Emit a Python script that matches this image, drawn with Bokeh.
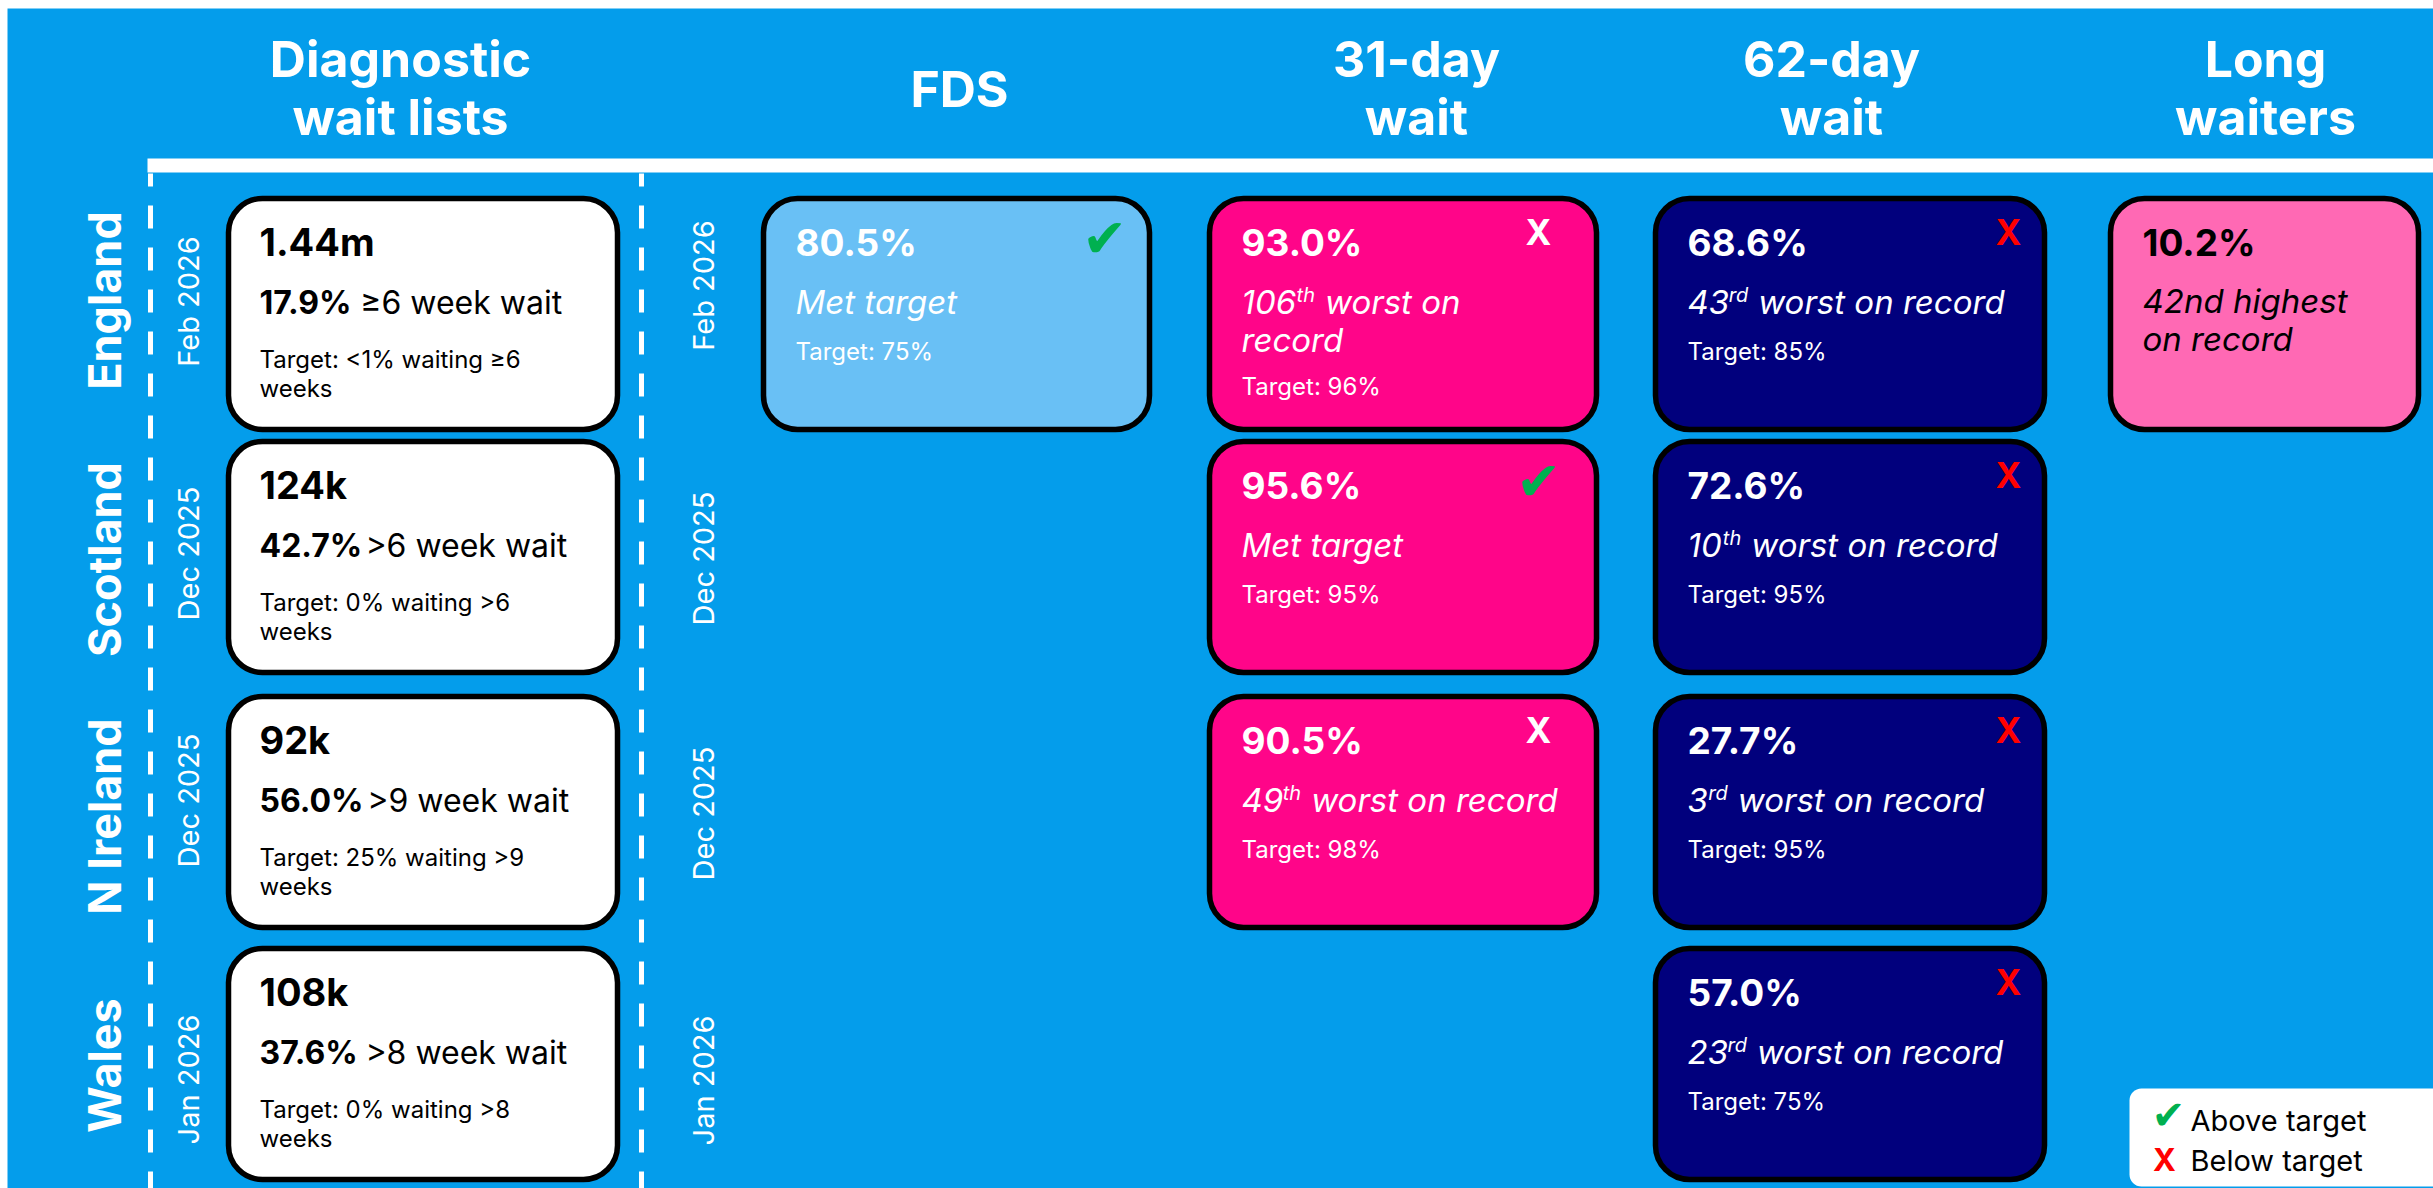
import math
from bokeh.plotting import figure
from bokeh.models import ColumnDataSource, Range1d
from bokeh.embed import file_html
from bokeh.resources import INLINE

# ---------------- data ----------------
countries = ["England", "Scotland", "N Ireland", "Wales"]
diag_dates = ["Feb 2026", "Dec 2025", "Dec 2025", "Jan 2026"]
cancer_dates = ["Feb 2026", "Dec 2025", "Dec 2025", "Jan 2026"]
headers = [["Diagnostic", "wait lists"], ["FDS"], ["31-day", "wait"], ["62-day", "wait"], ["Long", "waiters"]]

diag_list_size = ["1.44m", "124k", "92k", "108k"]
diag_pct_over = [17.9, 42.7, 56.0, 37.6]
diag_threshold = ["≥6  week wait", ">6 week wait", ">9 week wait", ">8 week wait"]
diag_target_text = ["Target: <1% waiting ≥6", "Target: 0% waiting >6", "Target: 25% waiting >9", "Target: 0% waiting >8"]

fds_pct = [80.5, None, None, None]
fds_target = [75, None, None, None]
fds_rank = [None, None, None, None]

d31_pct = [93.0, 95.6, 90.5, None]
d31_target = [96, 95, 98, None]
d31_rank = [106, None, 49, None]

d62_pct = [68.6, 72.6, 27.7, 57.0]
d62_target = [85, 95, 95, 75]
d62_rank = [43, 10, 3, 23]

long_pct = [10.2, None, None, None]
long_rank = [42, None, None, None]

legend_labels = ["Above target", "Below target"]

# ---------------- styling / layout ----------------
BG = "#049DEB"
FONT = "Inter"
W, H = 2433, 1188

col_left = {"diag": 228, "fds": 763, "d31": 1209, "d62": 1655, "long": 2110}
col_width = {"diag": 389, "fds": 386, "d31": 387, "d62": 389, "long": 308}
col_fill = {"diag": "white", "fds": "#69C0F5", "d31": "#FF0589", "d62": "#01007D", "long": "#FF69B4"}
col_text = {"diag": "black", "fds": "white", "d31": "white", "d62": "white", "long": "black"}
col_xmark = {"fds": "#FF0000", "d31": "white", "d62": "#FF0000"}
col_mark_off = {"fds": 45, "d31": 58, "d62": 36}
header_cx = [400, 959, 1416, 1831, 2265]
row_top = [198, 441, 696, 948]
label_cy = [300, 559, 816, 1065]
ldate_cy = [301, 553, 800, 1079]
rdate_cy = [285, 558, 813, 1080]
CARD_H = 231
PADX = 32

def X(px):
    return px

def Y(py):
    return H - py

REG = {'0': .62, '1': .42, '2': .58, '3': .60, '4': .62, '5': .58, '6': .60, '7': .54, '8': .60, '9': .60,
       '.': .27, '%': .82, ' ': .28, 't': .36, 'h': .60, 'r': .39, 'd': .62, 'n': .60, 's': .53}
BOLD = {'0': .65, '1': .47, '2': .61, '3': .63, '4': .65, '5': .61, '6': .63, '7': .57, '8': .63, '9': .63,
        '.': .30, '%': .90, ' ': .27}

def tw(s, size, bold=False):
    tbl = BOLD if bold else REG
    return sum(tbl.get(c, 0.58) for c in s) * size

def ordinal(n):
    if 10 <= n % 100 <= 20:
        return "th"
    return {1: "st", 2: "nd", 3: "rd"}.get(n % 10, "th")

p = figure(width=W, height=H, x_range=Range1d(0, W), y_range=Range1d(0, H),
           output_backend="svg", toolbar_location=None, min_border=0,
           x_axis_type=None, y_axis_type=None)
p.grid.visible = False
p.outline_line_color = None
p.background_fill_color = "white"
p.border_fill_color = "white"

# blue panel
p.quad(left=[X(7)], right=[W + 20], top=[Y(8)], bottom=[-20], fill_color=BG, line_color=None)

T = dict(x=[], y=[], text=[], size=[], style=[], color=[], align=[], baseline=[], angle=[], font=[])

def txt(px, py, s, size, style="normal", color="white", align="left", baseline="alphabetic", angle=0.0, font=FONT):
    # py is the baseline position (alphabetic) or the centre (middle)
    if baseline == "alphabetic":
        py = py - 0.35 * size
    T["x"].append(X(px)); T["y"].append(Y(py)); T["text"].append(s)
    T["size"].append(f"{size}px"); T["style"].append(style); T["color"].append(color)
    T["align"].append(align); T["baseline"].append("middle"); T["angle"].append(angle)
    T["font"].append(font)

# header
HS = 50
for cx, lines in zip(header_cx, headers):
    if len(lines) == 2:
        txt(cx, 76, lines[0], HS, "bold", align="center")
        txt(cx, 134, lines[1], HS, "bold", align="center")
    else:
        txt(cx, 106, lines[0], HS, "bold", align="center")

# white rule + dashed separators
p.quad(left=[X(147)], right=[W + 20], top=[Y(158)], bottom=[Y(172)], fill_color="white", line_color=None)
p.segment(x0=[X(150), X(641)], y0=[Y(173)] * 2, x1=[X(150), X(641)], y1=[Y(1210)] * 2,
          line_color="white", line_width=5, line_dash="23 19", line_dash_offset=10)

# row labels
for i in range(4):
    txt(104, label_cy[i], countries[i], 45, "bold", align="center", baseline="middle", angle=math.pi / 2)
    txt(188, ldate_cy[i], diag_dates[i], 29, align="center", baseline="middle", angle=math.pi / 2)
    txt(703, rdate_cy[i], cancer_dates[i], 29, align="center", baseline="middle", angle=math.pi / 2)

cards = dict(left=[], right=[], top=[], bottom=[], fill=[])

def add_card(col, i):
    L = col_left[col]; Tp = row_top[i]
    cards["left"].append(X(L)); cards["right"].append(X(L + col_width[col]))
    cards["top"].append(Y(Tp)); cards["bottom"].append(Y(Tp + CARD_H))
    cards["fill"].append(col_fill[col])
    return L, Tp

# diagnostic cards
for i in range(4):
    L, Tp = add_card("diag", i)
    x0 = L + PADX - 1
    txt(x0, Tp + 57, diag_list_size[i], 38, "bold", "black")
    ps = f"{diag_pct_over[i]:.1f}%"
    txt(x0, Tp + 115, ps, 32, "bold", "black")
    txt(x0 + tw(ps, 32, True) + tw(" ", 32), Tp + 115, diag_threshold[i], 32, "normal", "black")
    txt(x0, Tp + 169, diag_target_text[i], 24, "normal", "black")
    txt(x0, Tp + 198, "weeks", 24, "normal", "black")

NOTE = 33
SUP = 20

def perf_card(col, i, pct, target, rank):
    L, Tp = add_card(col, i)
    c = col_text[col]
    x0 = L + PADX
    txt(x0, Tp + 57, f"{pct:.1f}%", 37, "bold", c)
    if col == "long":
        txt(x0, Tp + 114, f"{rank}{ordinal(rank)} highest", NOTE, "italic", c)
        txt(x0, Tp + 152, "on record", NOTE, "italic", c)
        return
    met = pct >= target
    mx = L + col_width[col] - col_mark_off[col]
    nlines = 1
    if met:
        txt(x0, Tp + 115, "Met target", NOTE, "italic", c)
        txt(mx, Tp + 40, "✔", 54, "normal", "#00B050", align="center", baseline="middle", font="DejaVu Sans")
    else:
        num = str(rank); suf = ordinal(rank)
        full = f"{num}{suf} worst on record"
        xs = x0 + tw(num, NOTE) + 1
        xt = xs + tw(suf, SUP) + tw(" ", NOTE)
        txt(x0, Tp + 115, num, NOTE, "italic", c)
        txt(xs, Tp + 103, suf, SUP, "italic", c)
        if len(full) > 20:
            txt(xt, Tp + 115, "worst on", NOTE, "italic", c)
            txt(x0, Tp + 153, "record", NOTE, "italic", c)
            nlines = 2
        else:
            txt(xt, Tp + 115, "worst on record", NOTE, "italic", c)
        txt(mx, Tp + 33, "X", 35, "bold", col_xmark[col], align="center", baseline="middle")
    txt(x0, Tp + (161 if nlines == 1 else 196), f"Target: {target}%", 24, "normal", c)

for i in range(4):
    if fds_pct[i] is not None:
        perf_card("fds", i, fds_pct[i], fds_target[i], fds_rank[i])
    if d31_pct[i] is not None:
        perf_card("d31", i, d31_pct[i], d31_target[i], d31_rank[i])
    if d62_pct[i] is not None:
        perf_card("d62", i, d62_pct[i], d62_target[i], d62_rank[i])
    if long_pct[i] is not None:
        perf_card("long", i, long_pct[i], None, long_rank[i])

p.quad(left="left", right="right", top="top", bottom="bottom", fill_color="fill",
       line_color="black", line_width=5.5, border_radius=34, source=ColumnDataSource(cards))

# legend
p.quad(left=[X(2129)], right=[X(2450)], top=[Y(1088)], bottom=[Y(1186)], fill_color="white",
       line_color=None, border_radius=12)
txt(2168, 1114, "✔", 40, "normal", "#00B050", align="center", baseline="middle", font="DejaVu Sans")
txt(2164, 1159, "X", 31, "bold", "#FF0000", align="center", baseline="middle")
txt(2190, 1130, legend_labels[0], 29, "normal", "black")
txt(2190, 1170, legend_labels[1], 29, "normal", "black")

p.text(x="x", y="y", text="text", text_font_size="size", text_font_style="style", text_color="color",
       text_align="align", text_baseline="baseline", angle="angle", text_font="font",
       source=ColumnDataSource(T))

open("out.html", "w").write(file_html(p, INLINE))
